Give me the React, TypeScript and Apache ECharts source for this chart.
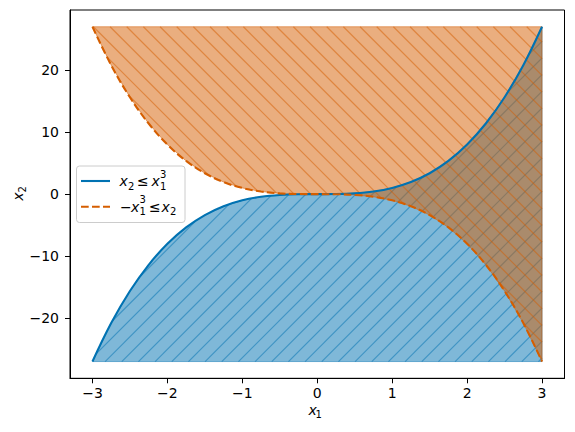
import React, { useEffect, useRef } from 'react';
import * as echarts from 'echarts';

// ---- data ----
const X1 = [-3, -2.75, -2.5, -2.25, -2, -1.75, -1.5, -1.25, -1, -0.75, -0.5, -0.25, 0, 0.25, 0.5, 0.75, 1, 1.25, 1.5, 1.75, 2, 2.25, 2.5, 2.75, 3];
// boundary of x2 <= x1^3
const X1_CUBED = [-27, -20.797, -15.625, -11.391, -8, -5.359, -3.375, -1.953, -1, -0.422, -0.125, -0.016, 0, 0.016, 0.125, 0.422, 1, 1.953, 3.375, 5.359, 8, 11.391, 15.625, 20.797, 27];
// boundary of -x1^3 <= x2
const NEG_X1_CUBED = [27, 20.797, 15.625, 11.391, 8, 5.359, 3.375, 1.953, 1, 0.422, 0.125, 0.016, 0, -0.016, -0.125, -0.422, -1, -1.953, -3.375, -5.359, -8, -11.391, -15.625, -20.797, -27];
const FILL_LOW = -27;
const FILL_HIGH = 27;
const X_TICKS = [-3, -2, -1, 0, 1, 2, 3];
const Y_TICKS = [-20, -10, 0, 10, 20];
const X_MIN = -3.3, X_MAX = 3.3;
const Y_MIN = -29.7, Y_MAX = 29.7;

const BLUE = '#0072B2';
const ORANGE = '#D55E00';
const BLUE_A = 'rgba(0,114,178,0.5)';
const ORANGE_A = 'rgba(213,94,0,0.5)';
const HATCH = 100 / 6;
const FONT = '"DejaVu Sans", "Liberation Sans", sans-serif';

function hatchLines(poly: number[][], dir: number, style: any) {
  const vals = poly.map((p) => p[0] + dir * p[1]);
  const cmin = Math.min(...vals);
  const cmax = Math.max(...vals);
  const out: any[] = [];
  const k0 = Math.ceil(cmin / HATCH);
  const k1 = Math.floor(cmax / HATCH);
  for (let k = k0; k <= k1; k++) {
    const c = k * HATCH;
    const hits: number[][] = [];
    for (let i = 0; i < poly.length; i++) {
      const p = poly[i];
      const q = poly[(i + 1) % poly.length];
      const fp = p[0] + dir * p[1] - c;
      const fq = q[0] + dir * q[1] - c;
      if (fp > 0 !== fq > 0) {
        const tt = fp / (fp - fq);
        hits.push([p[0] + tt * (q[0] - p[0]), p[1] + tt * (q[1] - p[1])]);
      }
    }
    hits.sort((a, b) => a[0] - b[0]);
    for (let j = 0; j + 1 < hits.length; j += 2) {
      out.push({
        type: 'line',
        silent: true,
        shape: { x1: hits[j][0], y1: hits[j][1], x2: hits[j + 1][0], y2: hits[j + 1][1] },
        style,
      });
    }
  }
  return out;
}

function regionRenderer(curve: number[], bound: number, dir: number, color: string) {
  return (params: any, api: any) => {
    if (params.dataIndex !== 0) return null;
    const pts = X1.map((x, i) => api.coord([x, curve[i]]));
    pts.push(api.coord([X1[X1.length - 1], bound]));
    pts.push(api.coord([X1[0], bound]));
    return {
      type: 'group',
      children: [
        { type: 'polygon', silent: true, shape: { points: pts }, style: { fill: color, stroke: color, lineWidth: 1 } },
        ...hatchLines(pts, dir, { stroke: color, lineWidth: 1.2 }),
      ],
    };
  };
}

function t(text: string, x: number, y: number, size: number, italic = false) {
  return {
    type: 'text',
    x,
    y,
    style: {
      text,
      fontSize: size,
      fontFamily: FONT,
      fontStyle: italic ? 'italic' : 'normal',
      fill: '#000',
      align: 'left',
      verticalAlign: 'middle',
    },
  };
}

const fmt = (v: number) => String(v).replace('-', '\u2212');

export default function App() {
  const ref = useRef<HTMLDivElement>(null);
  useEffect(() => {
    if (!ref.current) return;
    const chart = echarts.init(ref.current, undefined, { renderer: 'svg' });
    const y1 = 181;
    const y2 = 206.7;
    chart.setOption({
      animation: false,
      backgroundColor: '#fff',
      grid: {
        left: 70,
        right: 10.5,
        top: 10,
        bottom: 53.7,
        show: true,
        borderColor: '#000',
        borderWidth: 1,
        backgroundColor: 'transparent',
        containLabel: false,
        outerBoundsMode: 'none',
      },
      xAxis: {
        type: 'value',
        min: X_MIN,
        max: X_MAX,
        axisLine: { show: true, onZero: false, lineStyle: { color: '#000', width: 1 } },
        axisTick: { show: true, length: 5, customValues: X_TICKS, lineStyle: { color: '#000', width: 1 } },
        axisLabel: { customValues: X_TICKS, formatter: fmt, color: '#000', fontSize: 14, fontFamily: FONT, margin: 8 },
        splitLine: { show: false },
      },
      yAxis: {
        type: 'value',
        min: Y_MIN,
        max: Y_MAX,
        axisLine: { show: true, onZero: false, lineStyle: { color: '#000', width: 1 } },
        axisTick: { show: true, length: 5, customValues: Y_TICKS, lineStyle: { color: '#000', width: 1 } },
        axisLabel: { customValues: Y_TICKS, formatter: fmt, color: '#000', fontSize: 14, fontFamily: FONT, margin: 11 },
        splitLine: { show: false },
      },
      series: [
        {
          type: 'custom',
          name: 'region1',
          z: 1,
          silent: true,
          data: X1.map((x, i) => [x, X1_CUBED[i]]),
          encode: { x: 0, y: 1 },
          renderItem: regionRenderer(X1_CUBED, FILL_LOW, 1, BLUE_A),
        },
        {
          type: 'custom',
          name: 'region2',
          z: 2,
          silent: true,
          data: X1.map((x, i) => [x, NEG_X1_CUBED[i]]),
          encode: { x: 0, y: 1 },
          renderItem: regionRenderer(NEG_X1_CUBED, FILL_HIGH, -1, ORANGE_A),
        },
        {
          type: 'line',
          name: 'x2 <= x1^3',
          z: 3,
          data: X1.map((x, i) => [x, X1_CUBED[i]]),
          showSymbol: false,
          symbol: 'none',
          smooth: 0.4,
          lineStyle: { color: BLUE, width: 2.1 },
        },
        {
          type: 'line',
          name: '-x1^3 <= x2',
          z: 4,
          data: X1.map((x, i) => [x, NEG_X1_CUBED[i]]),
          showSymbol: false,
          symbol: 'none',
          smooth: 0.4,
          lineStyle: { color: ORANGE, width: 2.1, type: [7.7, 3.3] },
        },
      ],
      graphic: [
        {
          type: 'group',
          z: 100,
          children: [
            {
              type: 'rect',
              shape: { x: 76.5, y: 166, width: 108.5, height: 56.5, r: 3 },
              style: { fill: 'rgba(255,255,255,0.8)', stroke: '#cccccc', lineWidth: 1 },
            },
            { type: 'line', shape: { x1: 81, y1: y1, x2: 110, y2: y1 }, style: { stroke: BLUE, lineWidth: 2.1 } },
            { type: 'line', shape: { x1: 81, y1: y2, x2: 110, y2: y2 }, style: { stroke: ORANGE, lineWidth: 2.1, lineDash: [7.7, 3.3] } },
            t('x', 119.5, y1, 14, true),
            t('2', 128, y1 + 5, 10),
            t('\u2264', 137, y1, 14),
            t('x', 151.5, y1, 14, true),
            t('1', 160, y1 + 5, 10),
            t('3', 160, y1 - 7, 10),
            t('\u2212', 120, y2, 14),
            t('x', 131, y2, 14, true),
            t('1', 139.5, y2 + 5, 10),
            t('3', 139.5, y2 - 7, 10),
            t('\u2264', 149, y2, 14),
            t('x', 161.5, y2, 14, true),
            t('2', 170, y2 + 5, 10),
          ],
        },
        {
          type: 'group',
          z: 100,
          children: [t('x', 308.5, 409.5, 14, true), t('1', 315.5, 414.5, 10)],
        },
        {
          type: 'group',
          z: 100,
          x: 17.8,
          y: 193.7,
          rotation: Math.PI / 2,
          children: [t('x', -7, 0, 14, true), t('2', 1.3, 5, 10)],
        },
      ],
    });
    return () => chart.dispose();
  }, []);
  return <div ref={ref} style={{ position: 'fixed', left: 0, top: 0, width: 575, height: 432 }} />;
}
